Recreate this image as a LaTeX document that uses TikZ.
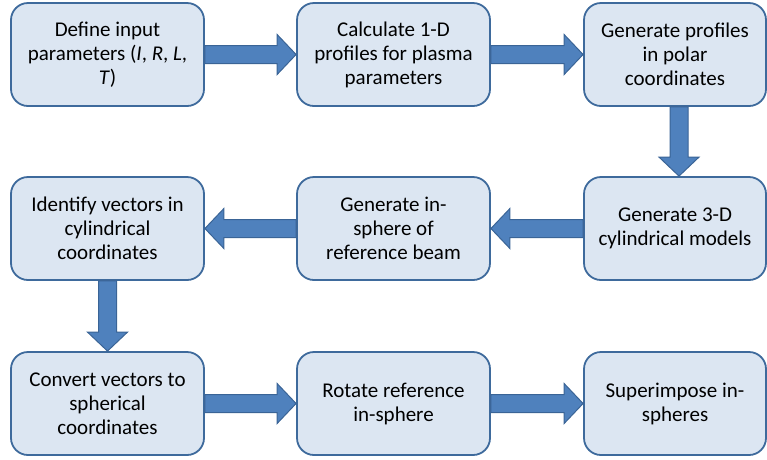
\documentclass[tikz,border=0pt]{standalone}
\usepackage{fontspec}
\setmainfont{Carlito}
\usetikzlibrary{calc}
\definecolor{boxfill}{HTML}{DCE6F2}
\definecolor{boxline}{HTML}{3E6A9C}
\definecolor{arrfill}{HTML}{4F81BD}
\definecolor{arrline}{HTML}{3A6496}
\newcommand{\blkright}[2]{\draw[blk] let \p1=(#1), \p2=(#2) in
  (\x1,\y1+9pt) -- (\x2-19pt,\y1+9pt) -- (\x2-19pt,\y1+20pt) -- (\x2,\y1)
  -- (\x2-19pt,\y1-20pt) -- (\x2-19pt,\y1-9pt) -- (\x1,\y1-9pt) -- cycle;}
\newcommand{\blkleft}[2]{\draw[blk] let \p1=(#1), \p2=(#2) in
  (\x1,\y1+9pt) -- (\x2+19pt,\y1+9pt) -- (\x2+19pt,\y1+20pt) -- (\x2,\y1)
  -- (\x2+19pt,\y1-20pt) -- (\x2+19pt,\y1-9pt) -- (\x1,\y1-9pt) -- cycle;}
\newcommand{\blkdown}[2]{\draw[blk] let \p1=(#1), \p2=(#2) in
  (\x1-9pt,\y1) -- (\x1-9pt,\y2+19pt) -- (\x1-20pt,\y2+19pt) -- (\x1,\y2)
  -- (\x1+20pt,\y2+19pt) -- (\x1+9pt,\y2+19pt) -- (\x1+9pt,\y1) -- cycle;}
\begin{document}
\begin{tikzpicture}[x=1pt,y=-1pt,
  stepbox/.style={draw=boxline, line width=1.8pt, fill=boxfill,
    rounded corners=17pt, minimum width=193pt, minimum height=103pt,
    align=center, inner sep=0pt,
    font=\fontsize{21}{24}\selectfont},
  narrowbox/.style={stepbox, minimum width=182pt},
  blk/.style={fill=arrfill, draw=arrline, line width=1pt, line join=miter}]
\useasboundingbox (0,0) rectangle (767,459);

\node[stepbox] (a) at (107.5,54.5) {Define input\\parameters (\textit{I}, \textit{R}, \textit{L},\\\textit{T})};
\node[stepbox] (b) at (393.5,54.5) {Calculate 1-D\\profiles for plasma\\parameters};
\node[narrowbox] (c) at (675,54.5) {Generate profiles\\in polar\\coordinates};
\node[stepbox] (d) at (107.5,228.5) {Identify vectors in\\cylindrical\\coordinates};
\node[stepbox] (e) at (393.5,228.5) {Generate in-\\sphere of\\reference beam};
\node[narrowbox] (f) at (675,228.5) {Generate 3-D\\cylindrical models};
\node[stepbox] (g) at (107.5,403.5) {Convert vectors to\\spherical\\coordinates};
\node[stepbox] (h) at (393.5,403.5) {Rotate reference\\in-sphere};
\node[narrowbox] (i) at (675,403.5) {Superimpose in-\\spheres};

\blkright{a.east}{b.west}
\blkright{b.east}{c.west}
\coordinate (cs) at ($(c.south)+(4,0)$);
\coordinate (fn) at ($(f.north)+(4,0)$);
\blkdown{cs}{fn}
\blkleft{f.west}{e.east}
\blkleft{e.west}{d.east}
\blkdown{d.south}{g.north}
\blkright{g.east}{h.west}
\blkright{h.east}{i.west}
\end{tikzpicture}
\end{document}
